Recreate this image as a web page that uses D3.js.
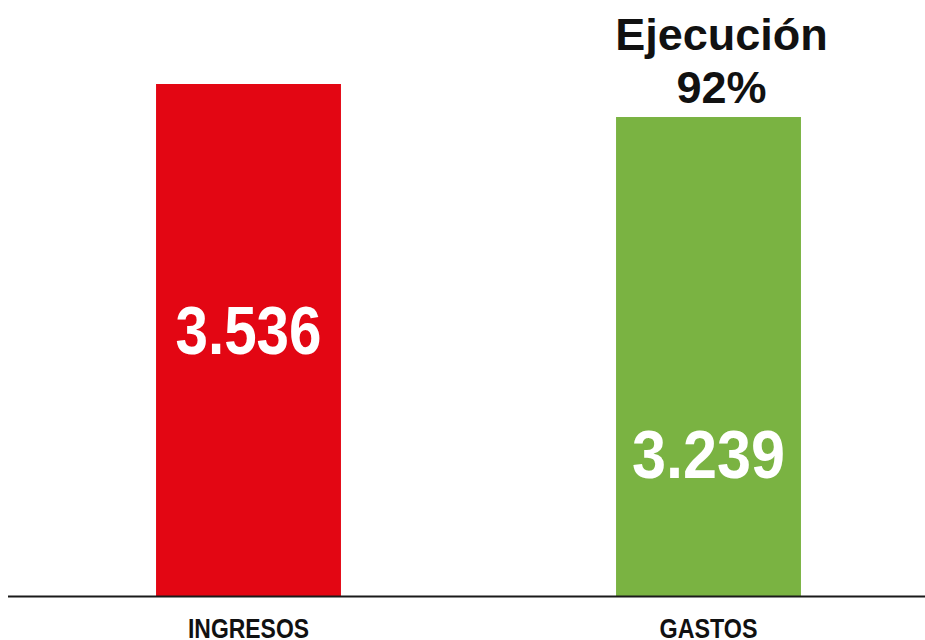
<!DOCTYPE html>
<html>
<head>
<meta charset="utf-8">
<script src="https://cdn.jsdelivr.net/npm/d3@7"></script>
<style>
  html, body { margin: 0; padding: 0; background: #fff; }
  svg { display: block; }
</style>
</head>
<body>
<svg id="chart" width="925" height="640"></svg>
<script>
const categories = ["INGRESOS", "GASTOS"];
const values = [3536, 3239];
const valueLabels = ["3.536", "3.239"];
const barColors = ["#e30613", "#7ab342"];
const executionTitle = ["Ejecución", "92%"];

// layout
const width = 925;
const height = 640;
const baseY = 596;
const yMin = -1070; // el gráfico original no arranca en cero
const labelBaselines = [354, 478];
const labelWidths = [146, 153];
const catWidths = [121, 98];

const svg = d3.select("#chart");

const xScale = d3
  .scaleBand()
  .domain(categories)
  .range([18.5, 938.5])
  .paddingInner(0.598)
  .paddingOuter(0.299);

const yScale = d3.scaleLinear().domain([yMin, 3536]).range([baseY, 84]);

// barras
svg
  .selectAll("rect.bar")
  .data(values)
  .join("rect")
  .attr("class", "bar")
  .attr("x", (d, i) => xScale(categories[i]))
  .attr("y", (d) => yScale(d))
  .attr("width", xScale.bandwidth())
  .attr("height", (d) => yScale(yMin) - yScale(d))
  .attr("fill", (d, i) => barColors[i]);

// valores dentro de las barras (condensados a mano, no hay fuente narrow)
svg
  .selectAll("text.value")
  .data(valueLabels)
  .join("text")
  .attr("class", "value")
  .attr("x", (d, i) => xScale(categories[i]) + xScale.bandwidth() / 2 - labelWidths[i] / 2)
  .attr("y", (d, i) => labelBaselines[i])
  .attr("textLength", (d, i) => labelWidths[i])
  .attr("lengthAdjust", "spacingAndGlyphs")
  .attr("fill", "#fff")
  .style("font-family", "'Liberation Sans', Arial, sans-serif")
  .style("font-weight", "bold")
  .style("font-size", "68px")
  .text((d) => d);

// eje x
svg
  .append("line")
  .attr("x1", 8)
  .attr("x2", width)
  .attr("y1", baseY + 0.5)
  .attr("y2", baseY + 0.5)
  .attr("stroke", "#1a1a1a")
  .attr("stroke-width", 2);

svg
  .selectAll("text.cat")
  .data(categories)
  .join("text")
  .attr("class", "cat")
  .attr("x", (d, i) => xScale(d) + xScale.bandwidth() / 2 - catWidths[i] / 2)
  .attr("y", 638)
  .attr("textLength", (d, i) => catWidths[i])
  .attr("lengthAdjust", "spacingAndGlyphs")
  .attr("fill", "#111")
  .style("font-family", "'Liberation Sans', Arial, sans-serif")
  .style("font-weight", "bold")
  .style("font-size", "27px")
  .text((d) => d);

// anotación de ejecución
const gx = xScale("GASTOS") + xScale.bandwidth() / 2 + 13;
svg
  .selectAll("text.exec")
  .data(executionTitle)
  .join("text")
  .attr("class", "exec")
  .attr("x", gx)
  .attr("y", (d, i) => 50 + i * 53)
  .attr("text-anchor", "middle")
  .attr("fill", "#111")
  .style("font-family", "'Liberation Sans', Arial, sans-serif")
  .style("font-weight", "bold")
  .style("font-size", "45px")
  .text((d) => d);
</script>
</body>
</html>
